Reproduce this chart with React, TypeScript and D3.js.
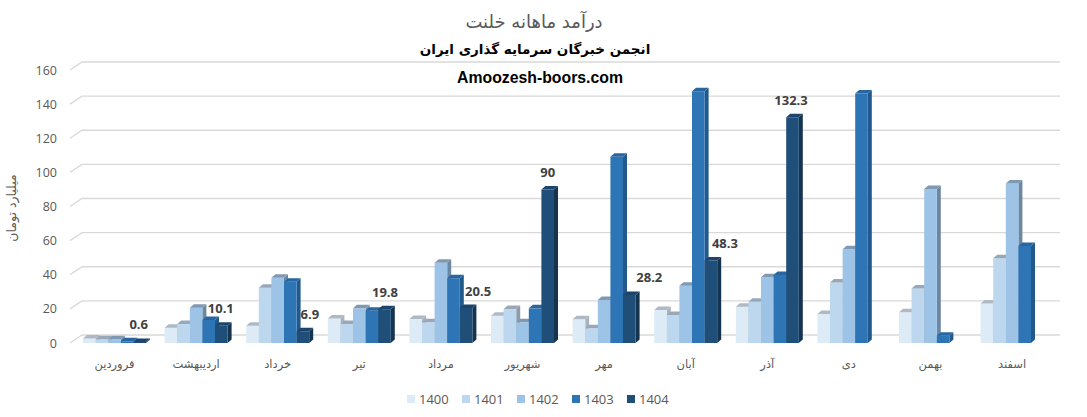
import React from "react";
import * as d3 from "d3";

const months = ["فروردین", "اردیبهشت", "خرداد", "تیر", "مرداد", "شهریور", "مهر", "آبان", "آذر", "دی", "بهمن", "اسفند"];
const years = ["1400", "1401", "1402", "1403", "1404"];
const v1400 = [2.7, 9.0, 10.1, 14.4, 14.0, 16.0, 13.9, 19.3, 21.3, 17.0, 18.0, 23.2];
const v1401 = [2.2, 11.1, 32.4, 11.1, 12.1, 19.9, 8.6, 16.4, 24.2, 35.5, 32.0, 49.6];
const v1402 = [2.2, 20.7, 38.3, 20.3, 47.0, 12.1, 25.2, 33.6, 38.5, 55.0, 90.2, 93.5];
const v1403 = [1.0, 13.5, 35.9, 18.9, 37.9, 20.3, 109.1, 147.6, 39.8, 146.2, 4.3, 56.8];
const v1404: (number | null)[] = [0.6, 10.1, 6.9, 19.8, 20.5, 90, 28.2, 48.3, 132.3, null, null, null];
const yTicks = [0, 20, 40, 60, 80, 100, 120, 140, 160];

const series = [v1400, v1401, v1402, v1403, v1404];

// styles
const frontCol = ["#DDEBF7", "#BDD7EE", "#9DC3E6", "#2E75B6", "#1F4E79"];
const topCol = ["#AEB9C4", "#98A8B8", "#7F99B2", "#2866A1", "#1C456D"];
const sideCol = ["#A7B3BF", "#8C9CAC", "#6C87A2", "#21598D", "#15344F"];
const labelNudge = [-1, -0.5, 7, 0.5, 12, 0, 20, 14, -1.5, 0, 0, 0];

const W = 1087, H = 417;
const faceDx = 4, faceDy = 3.5;
const wallDx = 12, wallDy = 8;

export default function App() {
  const x = d3.scaleBand<string>().domain(months).range([73.7, 1052.9]).paddingInner(0.228).paddingOuter(0.114);
  const xi = d3.scaleBand<string>().domain(years).range([0, x.bandwidth()]);
  const y = d3.scaleLinear().domain([0, 160]).range([343, 70]);
  const w = xi.bandwidth();
  const base = y(0);

  const bars: any[] = [];
  months.forEach((m, mi) => {
    years.forEach((yr, si) => {
      const v = series[si][mi];
      if (v == null) return;
      const x0 = (x(m) as number) + (xi(yr) as number);
      const yt = y(v);
      const front = `M${x0},${yt}L${x0 + w},${yt}L${x0 + w},${base}L${x0},${base}Z`;
      const top = `M${x0},${yt}L${x0 + faceDx},${yt - faceDy}L${x0 + w + faceDx},${yt - faceDy}L${x0 + w},${yt}Z`;
      const side = `M${x0 + w},${yt}L${x0 + w + faceDx},${yt - faceDy}L${x0 + w + faceDx},${base - faceDy}L${x0 + w},${base}Z`;
      bars.push(
        <g key={`${mi}-${si}`}>
          <path d={side} fill={sideCol[si]} />
          <path d={front} fill={frontCol[si]} />
          <path d={top} fill={topCol[si]} />
        </g>
      );
    });
  });

  const labels = months.map((m, mi) => {
    const v = v1404[mi];
    if (v == null) return null;
    const cx = (x(m) as number) + (xi("1404") as number) + w / 2 + labelNudge[mi];
    return (
      <text key={mi} x={cx} y={y(v) - 12.5} textAnchor="middle" fontFamily="Open Sans" fontWeight="bold" fontSize={13} fill="#404040">
        {String(v)}
      </text>
    );
  });

  const wallRight = 1060;
  const leftX = 70;

  return (
    <svg width={W} height={H} style={{ position: "absolute", left: 0, top: 0, background: "#fff" }}>
      <rect x={0} y={0} width={W} height={H} fill="#fff" />
      {yTicks.map((t) => {
        const yf = y(t);
        return (
          <path key={t} d={`M${leftX},${yf}L${leftX + wallDx},${yf - wallDy}L${wallRight},${yf - wallDy}`} fill="none" stroke="#D9D9D9" strokeWidth={1.3} />
        );
      })}
      {yTicks.map((t) => (
        <text key={"l" + t} x={57} y={y(t)} dy="0.36em" textAnchor="end" fontFamily="Open Sans" fontSize={12.5} fill="#595959">
          {t}
        </text>
      ))}
      {bars}
      {labels}
      {months.map((m) => (
        <text key={"m" + m} x={(x(m) as number) + x.bandwidth() / 2} y={368} textAnchor="middle" fontFamily="DejaVu Sans" fontSize={11.5} fill="#595959">
          {m}
        </text>
      ))}
      <text transform={`translate(16,208) rotate(-90)`} textAnchor="middle" fontFamily="DejaVu Sans" fontSize={12.5} fill="#595959">
        میلیارد تومان
      </text>
      <text x={534} y={28} textAnchor="middle" fontFamily="DejaVu Sans" fontSize={18} fill="#595959">
        درآمد ماهانه خلنت
      </text>
      <text x={535} y={54} textAnchor="middle" fontFamily="DejaVu Sans" fontWeight="bold" fontSize={13.5} fill="#000">
        انجمن خبرگان سرمایه گذاری ایران
      </text>
      <text x={540} y={83} textAnchor="middle" fontFamily="Liberation Sans" fontWeight="bold" fontSize={15.8} fill="#000">
        Amoozesh-boors.com
      </text>
      {years.map((yr, i) => (
        <g key={"lg" + yr} transform={`translate(${407 + i * 55},395)`}>
          <rect x={0} y={0} width={8} height={8} fill={frontCol[i]} />
          <text x={12} y={4} dy="0.36em" fontFamily="Open Sans" fontSize={13} fill="#595959">
            {yr}
          </text>
        </g>
      ))}
    </svg>
  );
}
